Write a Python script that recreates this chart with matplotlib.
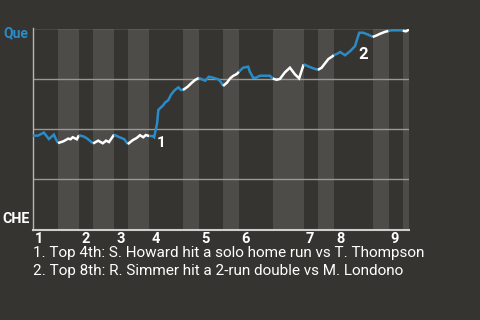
import matplotlib
matplotlib.use("Agg")
import matplotlib.pyplot as plt

# half-inning boundaries (plate-appearance index)
half_starts = [0, 6.0, 11.0, 14.4, 19.4, 22.7, 27.8, 35.9, 39.7, 45.5, 49.3,
               57.4, 64.8, 68.2, 72.0, 81.3, 85.1, 88.5, 90.0]
inning_labels = ["1", "2", "3", "4", "5", "6", "7", "8", "9"]

# win probability for Que (%)
x_vals = [0, 1.2, 2.6, 3.8, 5.0, 5.5, 6.0,
          7.3, 8.4, 9.0, 9.5, 10.5, 11.0,
          12.2, 13.0, 14.4,
          15.6, 16.7, 17.5, 18.2, 19.4,
          20.6, 21.8, 22.7,
          23.9, 24.8, 25.6, 26.4, 27.0, 27.8,
          28.6, 29.0, 29.7, 30.0, 30.4, 31.2, 31.6, 32.4, 33.0, 33.6, 34.2, 34.8, 35.4, 35.9,
          37.0, 38.0, 38.8, 39.7,
          40.8, 41.2, 42.1, 42.8, 43.6, 44.4, 45.2, 45.5,
          46.4, 47.2, 47.9, 48.8, 49.3,
          50.3, 51.5, 51.9, 52.7, 53.4, 54.3, 56.7, 57.4,
          58.3, 59.1, 60.3, 61.5, 62.7, 63.7, 64.8,
          66.3, 67.5, 68.2,
          69.1, 69.9, 70.7, 71.7, 72.0,
          72.7, 73.5, 74.7, 75.9, 77.1, 77.5, 78.1, 79.0, 80.3, 81.3,
          82.3, 83.1, 84.2, 85.1,
          85.8, 88.2, 88.5,
          89.3, 90.0]
wp_vals = [46.7, 46.7, 48.2, 45.0, 47.2, 44.9, 43.0,
           43.9, 45.2, 44.9, 45.9, 44.9, 46.9,
           46.2, 45.2, 42.8,
           44.2, 42.9, 44.2, 43.5, 47.2,
           46.0, 45.0, 42.5,
           44.5, 45.5, 46.9, 45.9, 47.0, 46.5,
           46.5, 45.9, 52.8, 59.5, 60.3, 61.9, 63.1, 64.4, 66.9, 68.6, 69.8, 70.7, 69.4, 69.4,
           71.0, 73.0, 74.4, 75.4,
           74.4, 74.0, 76.0, 75.7, 75.2, 74.7, 72.7, 71.4,
           73.0, 75.2, 76.4, 77.4, 78.5,
           80.5, 81.0, 78.5, 75.5, 75.5, 76.5, 76.5, 75.1,
           74.5, 74.9, 78.2, 80.5, 77.2, 75.2, 82.2,
           80.8, 79.9, 79.4,
           80.5, 82.7, 84.8, 86.2, 86.8,
           87.3, 88.3, 86.7, 88.7, 91.3, 94.1, 97.9, 97.9, 96.9, 95.8,
           96.6, 97.4, 98.3, 98.8,
           99.1, 99.1, 98.9,
           98.6, 99.5]

notes = ["1. Top 4th: S. Howard hit a solo home run vs T. Thompson",
         "2. Top 8th: R. Simmer hit a 2-run double vs M. Londono"]
note_marks = [(29.0, "1"), (77.5, "2")]

BG = "#363430"
BAND = "#4e4c49"
BLUE = "#2b8bc6"
WHITE = "#ffffff"

plt.rcParams['font.family'] = ['Roboto', 'DejaVu Sans']

fig = plt.figure(figsize=(4.8, 3.2), dpi=100, facecolor=BG)
ax = fig.add_axes([33/480, 1-229.5/320, 376/480, 201/320])
ax.set_facecolor(BG)
ax.set_xlim(0, 90)
ax.set_ylim(0, 100)

# shade bottom halves
for i in range(1, len(half_starts) - 1, 2):
    ax.axvspan(half_starts[i], half_starts[i+1], color=BAND, lw=0, zorder=0)

for g in [25, 50, 75, 100]:
    ax.axhline(g, color="#9a9895", lw=1, zorder=1)

# line segments coloured by half inning
for i in range(len(half_starts) - 1):
    a, b = half_starts[i], half_starts[i+1]
    xs = [x for x in x_vals if a - 1e-9 <= x <= b + 1e-9]
    ys = [wp_vals[x_vals.index(x)] for x in xs]
    ax.plot(xs, ys, color=BLUE if i % 2 == 0 else WHITE, lw=1.8,
            solid_capstyle='butt', solid_joinstyle='miter', zorder=3)

for xm, lab in note_marks:
    ym = wp_vals[x_vals.index(xm)]
    if lab == "1":
        ax.text(xm + 0.6, ym - 3, lab, color=WHITE, fontsize=11, fontweight='bold',
                ha='left', va='center', zorder=4)
    else:
        ax.text(xm + 0.5, ym - 7, lab, color=WHITE, fontsize=12, fontweight='bold',
                ha='left', va='center', zorder=4)

for s in ['top', 'right']:
    ax.spines[s].set_visible(False)
ax.spines['left'].set_color("#b8b6b2")
ax.spines['left'].set_linewidth(1)
ax.spines['bottom'].set_color("#d0cecb")
ax.spines['bottom'].set_linewidth(1.5)
ax.set_xticks([])
ax.set_yticks([])

for k, lab in enumerate(inning_labels):
    ax.text(half_starts[2*k] + 0.5, -1.2, lab, color=WHITE, fontsize=10.5, fontweight='bold',
            ha='left', va='top', clip_on=False)

fig.text(3/480, 1-33/320, "Que", color=BLUE, fontsize=10, fontweight='bold',
         ha='left', va='center')
fig.text(2/480, 1-219/320, "CHE", color=WHITE, fontsize=10.3, fontweight='bold',
         ha='left', va='center')

for k, n in enumerate(notes):
    fig.text(33/480, 1-(253 + 18*k)/320, n, color=WHITE, fontsize=11,
             ha='left', va='center')

fig.savefig("out.png", dpi=100, facecolor=BG)
